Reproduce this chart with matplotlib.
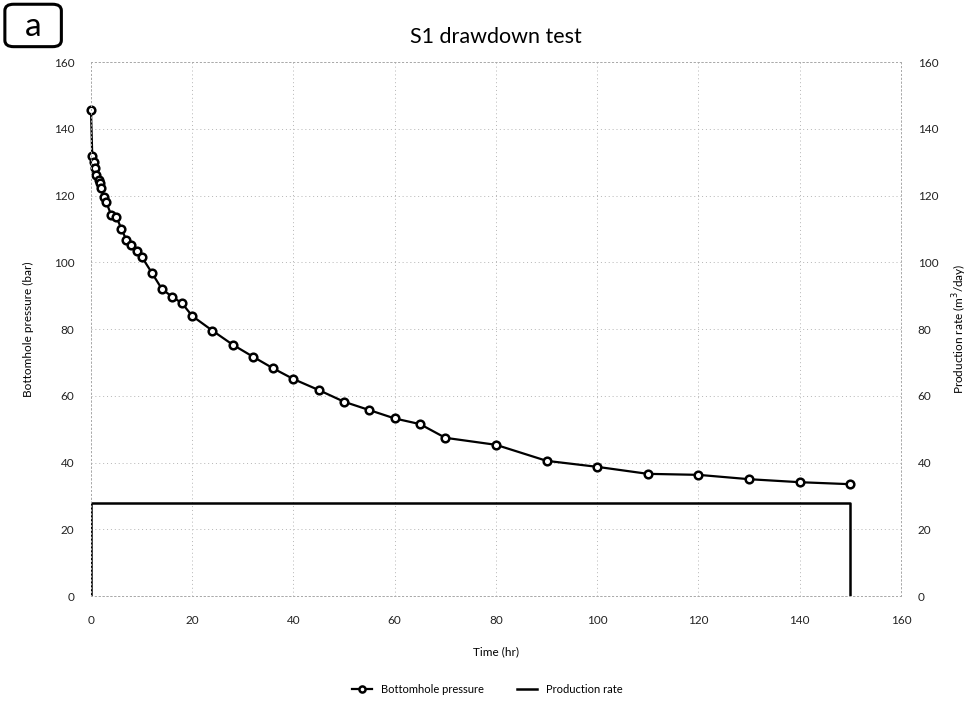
import matplotlib.pyplot as plt
from matplotlib.patches import FancyBboxPatch

plt.rcParams['font.family'] = ['Lato', 'DejaVu Sans']

# Bottomhole pressure readings (bar) vs time (hr)
time_hr = [0, 0.25, 0.5, 0.75, 1, 1.5, 1.75, 2, 2.5, 3, 4, 5, 6, 7, 8, 9, 10,
           12, 14, 16, 18, 20, 24, 28, 32, 36, 40, 45, 50, 55, 60, 65, 70,
           80, 90, 100, 110, 120, 130, 140, 150]
pressure_bar = [145.6, 131.9, 130.1, 128.1, 126.1, 124.6, 123.6, 122.1, 119.6,
                118.1, 114.1, 113.6, 110.1, 106.6, 105.1, 103.3, 101.7,
                96.9, 92.0, 89.7, 87.7, 83.9, 79.5, 75.3, 71.7, 68.2, 65.0,
                61.7, 58.2, 55.7, 53.2, 51.5, 47.4, 45.3, 40.5, 38.7, 36.6,
                36.3, 35.0, 34.1, 33.5]

# Production rate (m3/day) step
rate_time = [0, 0, 150, 150]
rate_values = [0, 27.8, 27.8, 0]

ticks = [0, 20, 40, 60, 80, 100, 120, 140, 160]

fig = plt.figure(figsize=(9.74, 7.07), dpi=100)
ax = fig.add_axes([0.0934, 0.157, 0.8316, 0.7553])
ax2 = ax.twinx()

p1, = ax.plot(time_hr, pressure_bar, color='black', lw=1.6, marker='o',
              markersize=5.5, markerfacecolor='white', markeredgecolor='black',
              markeredgewidth=1.8, label='Bottomhole pressure', zorder=3,
              clip_on=False)
p2, = ax2.plot(rate_time, rate_values, color='black', lw=1.8,
               label='Production rate')

for a in (ax, ax2):
    a.set_xlim(0, 160)
    a.set_ylim(0, 160)
    a.set_yticks(ticks)
    for s in a.spines.values():
        s.set_linestyle((0, (1, 3)))
        s.set_color('#aaaaaa')
        s.set_linewidth(0.7)
    a.tick_params(length=0, labelsize=8.5, colors='#222222')

ax.set_xticks(ticks)
ax.tick_params(axis='x', pad=14)
ax.tick_params(axis='y', pad=12)
ax2.tick_params(axis='y', pad=12)
ax.grid(True, linestyle=(0, (1, 3)), color='#b5b5b5', linewidth=0.7)

ax.set_xlabel('Time (hr)', fontsize=8.5, labelpad=14)
ax.set_ylabel('Bottomhole pressure (bar)', fontsize=8.5, labelpad=14)
ax2.set_ylabel('Production rate (m$^3$/day)', fontsize=8.5, labelpad=9)

ax.set_title('S1 drawdown test', fontsize=15.5, pad=14)

fig.legend(handles=[p1, p2], loc='center', bbox_to_anchor=(0.5, 0.025),
           ncol=2, frameon=False, fontsize=8, handlelength=1.8,
           columnspacing=3, markerscale=0.8)

# panel label
box = FancyBboxPatch((0.008, 0.937), 0.052, 0.054,
                     boxstyle='round,pad=0.003,rounding_size=0.009',
                     transform=fig.transFigure, facecolor='white',
                     edgecolor='black', linewidth=2.2)
fig.patches.append(box)
fig.text(0.034, 0.962, 'a', fontsize=24, ha='center', va='center')

fig.savefig('out.png', dpi=100)
